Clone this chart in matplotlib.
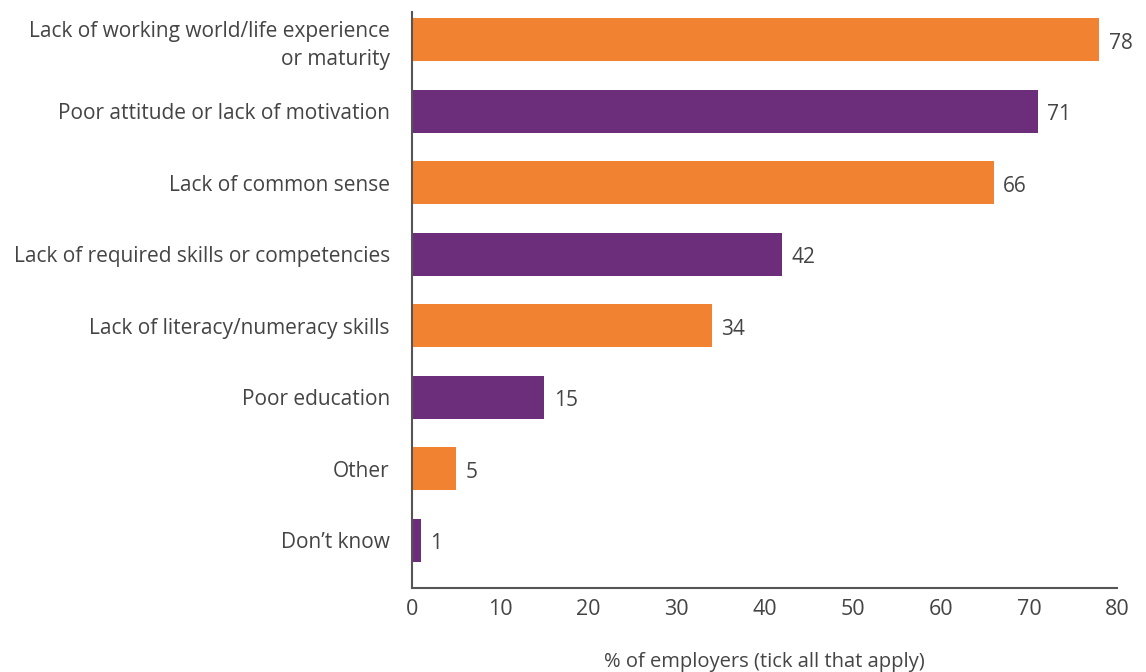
import matplotlib
matplotlib.use("Agg")
import matplotlib.pyplot as plt

# Data
categories = [
    "Lack of working world/life experience\nor maturity",
    "Poor attitude or lack of motivation",
    "Lack of common sense",
    "Lack of required skills or competencies",
    "Lack of literacy/numeracy skills",
    "Poor education",
    "Other",
    "Don\u2019t know",
]
values = [78, 71, 66, 42, 34, 15, 5, 1]
xticks = [0, 10, 20, 30, 40, 50, 60, 70, 80]

orange = "#F08231"
purple = "#6C2E7A"
textcol = "#444444"

plt.rcParams["font.family"] = ["Open Sans", "DejaVu Sans"]

fig = plt.figure(figsize=(11.46, 6.72), dpi=100)
ax = fig.add_axes([412 / 1146, 1 - 588 / 672, (1117 - 412) / 1146, (588 - 12) / 672])

colors = [orange if i % 2 == 0 else purple for i in range(len(values))]
ypos = list(range(len(values)))
ax.barh(ypos, values, height=0.6, color=colors)

for y, v in zip(ypos, values):
    ax.text(v + 1.1, y + 0.05, str(v), va="center", ha="left",
            fontsize=15, color=textcol)

ax.set_yticks(ypos)
ax.set_yticklabels(categories, fontsize=15, color=textcol,
                   linespacing=1.4)
ax.set_ylim(7.67, -0.39)
ax.set_xlim(0, 80)
ax.set_xticks(xticks)
ax.set_xticklabels([str(t) for t in xticks], fontsize=15.5, color=textcol)
ax.tick_params(axis="x", length=0, pad=8)
ax.tick_params(axis="y", length=0, pad=16)

for s in ["top", "right"]:
    ax.spines[s].set_visible(False)
for s in ["left", "bottom"]:
    ax.spines[s].set_color("#555555")
    ax.spines[s].set_linewidth(1.5)

ax.set_xlabel("% of employers (tick all that apply)", fontsize=14.5,
              color=textcol, labelpad=23)

fig.savefig("out.png", dpi=100)
